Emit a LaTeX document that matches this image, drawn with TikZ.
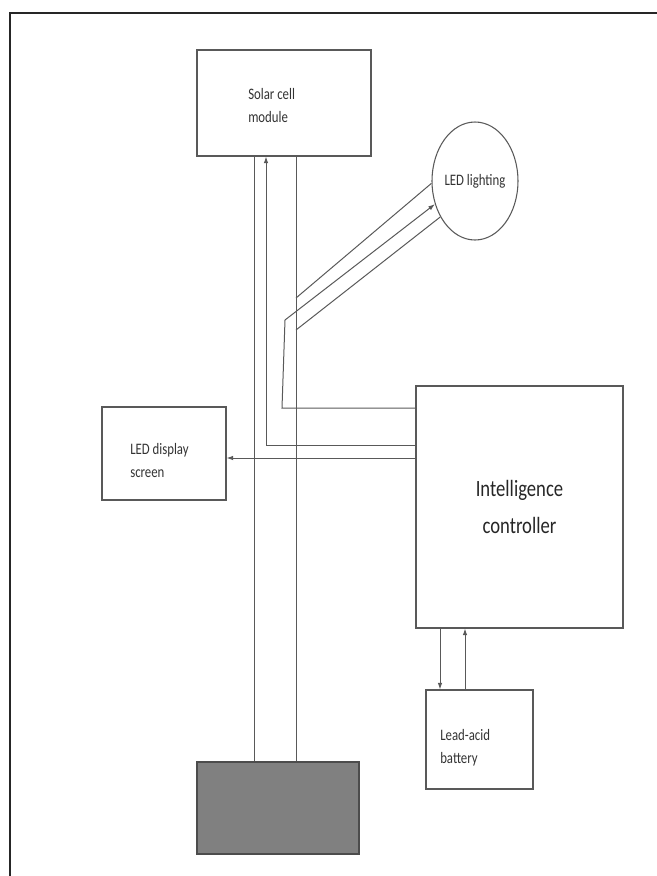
\documentclass[tikz,border=0pt]{standalone}
\usepackage{fontspec}
\setmainfont{Carlito}[FakeStretch=0.8]
\usepackage{tikz}
\usetikzlibrary{arrows.meta, shapes.geometric}

\tikzset{
    wd/.style={minimum width=#1*0.75pt},
    ht/.style={minimum height=#1*0.75pt},
    block/.style={draw=black!65, line width=0.8pt, inner sep=0pt},
    wire/.style={draw=black!65, line width=0.75pt},
    feed/.style={wire, -{Latex[length=5pt,width=3.5pt]}},
    lbl/.style={anchor=west, align=left, inner sep=0pt, text=black!80, font=\fontsize{12}{17.25}\selectfont},
}

\begin{document}
\begin{tikzpicture}[x=0.75pt, y=-0.75pt]
    \useasboundingbox (0,0) rectangle (657,876);

    % frame
    \draw[black!85, line width=2.2pt] (10,876) -- (10,13) -- (657,13);

    % blocks
    \node[block, wd=174, ht=106] (solar) at (284,103) {};
    \node[block, ellipse, wd=84, ht=118, text=black!80, font=\fontsize{12}{17.25}\selectfont] (ledlight) at (475,181) {\raisebox{-7pt}{LED lighting}};
    \node[block, wd=124, ht=93] (display) at (164,453.5) {};
    \node[block, wd=207, ht=242, text=black!85, font=\fontsize{17.5}{27.75}\selectfont, align=center] (ctrl) at (519.5,507) {Intelligence\\controller};
    \node[block, wd=107, ht=99] (battery) at (479.5,739.5) {};
    \node[block, fill=black!50, draw=black!70, wd=162, ht=92] (base) at (278,808) {};

    \node[lbl] (solartxt) at (248,105) {Solar cell\\module};
    \node[lbl] (displaytxt) at (130,460) {LED display\\screen};
    \node[lbl] (batterytxt) at (440,747.5) {Lead-acid\\battery};

    % wire positions
    \coordinate (wA) at (254,0);
    \coordinate (wB) at (266,0);
    \coordinate (wC) at (296,0);
    \coordinate (wD) at (282,0);
    \coordinate (hA) at (0,408);
    \coordinate (hB) at (0,445);
    \coordinate (hC) at (0,458);
    \coordinate (kink) at (285,320);
    \coordinate (jTop) at (296,298);
    \coordinate (jBot) at (296,330);
    \coordinate (bDn) at (440,0);
    \coordinate (bUp) at (465,0);

    % connectors
    \draw[wire] (wA |- solar.south) -- (wA |- base.north);
    \draw[wire] (wC |- solar.south) -- (wC |- base.north);
    \draw[feed] (ctrl.west |- hB) -- (wB |- hB) -- (wB |- solar.south);
    \draw[feed] (ctrl.west |- hC) -- (display.east |- hC);
    \draw[feed] (ctrl.west |- hA) -- (wD |- hA) -- (kink) -- (ledlight.210);
    \draw[wire] (jTop) -- (ledlight.183);
    \draw[wire] (jBot) -- (ledlight.226);
    \draw[feed] (bDn |- ctrl.south) -- (bDn |- battery.north);
    \draw[feed] (bUp |- battery.north) -- (bUp |- ctrl.south);
\end{tikzpicture}
\end{document}
